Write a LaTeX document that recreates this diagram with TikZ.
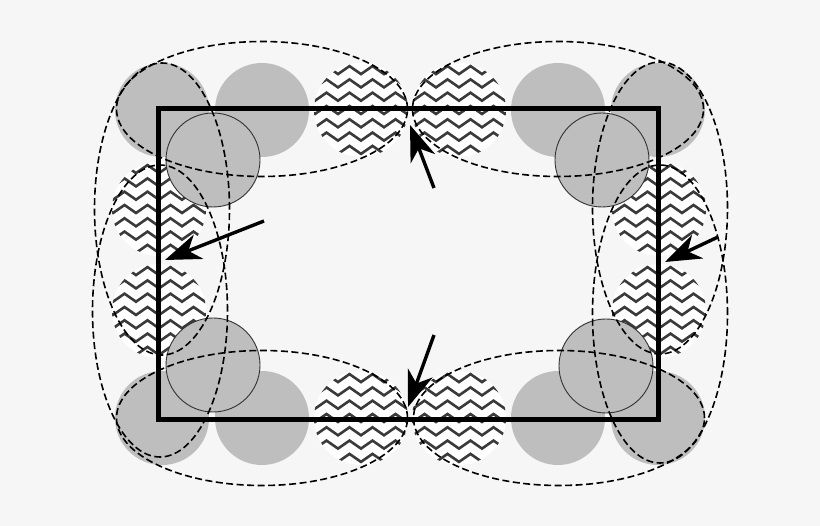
\documentclass[tikz,border=0pt]{standalone}
\usetikzlibrary{shapes.geometric,arrows.meta}
\definecolor{pagebg}{HTML}{F6F6F6}
\definecolor{dotgray}{HTML}{BEBEBE}
\definecolor{wavegray}{HTML}{3A3A3A}
\tikzset{
  graydot/.style={circle,fill=dotgray,minimum size=94,inner sep=0},
  ringdot/.style={circle,fill=dotgray,draw=black!80,line width=0.9,minimum size=94,inner sep=0},
  wavedot/.style={circle,fill=white,minimum size=94,inner sep=0,
    path picture={
      \foreach \r in {-4,...,4} {
        \draw[wavegray,line width=2.6,shift={(path picture bounding box.center)}]
          plot[samples at={-69,-57.5,...,69}] (\x,{\r*13.3+4*cos(\x*15.65)});
      }
    }},
  lobe/.style={ellipse,draw=black,line width=1.6,dash pattern=on 7pt off 3.5pt,inner sep=0},
  frame/.style={draw=black,line width=5,inner sep=0,minimum width=500,minimum height=311},
  bigarrow/.style={line width=3.4,-{Stealth[length=36,width=26,inset=11]}}
}
\begin{document}
\begin{tikzpicture}[x=1pt,y=-1pt]
\useasboundingbox[fill=pagebg] (0,0) rectangle (820,526);
% gray dots
\foreach \n/\px/\py in {a/162/110,b/262/110,c/558/110,d/658/110,e/162/418,f/262/418,g/558/418,h/658/418} {
  \node[graydot] (dot\n) at (\px,\py) {};
}
% wave dots
\foreach \n/\px/\py in {a/361/110,b/459/110,c/361/418,d/459/418,e/159/209,f/159/311,g/659/209,h/659/311} {
  \node[wavedot] (wave\n) at (\px,\py) {};
}
\node[frame] (box) at (408,264.5) {};
% corner rings
\foreach \n/\px/\py in {a/213/160,b/602/160,c/213/365,d/606/366} {
  \node[ringdot] (ring\n) at (\px,\py) {};
}
% lobes across
\foreach \n/\px/\py in {a/262/109,b/558/109,c/262/418,d/559/418} {
  \node[lobe,minimum width=291,minimum height=135] (wide\n) at (\px,\py) {};
}
% lobes down
\foreach \n/\px/\py/\h in {a/162/209/292,b/160/311/292,c/660/208/292,d/660/314/298} {
  \node[lobe,minimum width=135,minimum height=\h] (tall\n) at (\px,\py) {};
}
\coordinate (topfrom) at (434,188);
\coordinate (topto) at (410,125);
\coordinate (leftfrom) at (264,221);
\coordinate (leftto) at (165,260);
\coordinate (rightfrom) at (718,237);
\coordinate (rightto) at (665,262);
\coordinate (lowfrom) at (434,335);
\coordinate (lowto) at (408,407);
\foreach \p in {top,left,right,low} {
  \draw[bigarrow] (\p from) -- (\p to);
}
\end{tikzpicture}
\end{document}
